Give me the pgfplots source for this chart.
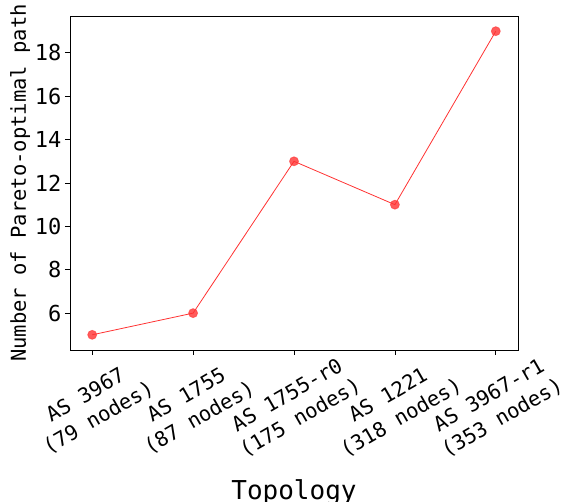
\documentclass[border=0pt]{standalone}
\usepackage{fontspec}
\setmainfont{DejaVu Sans Mono}
\usepackage{pgfplots}
\pgfplotsset{compat=1.18}

\definecolor{linered}{RGB}{255,50,50}

\begin{document}
\begin{tikzpicture}
\begin{axis}[
  scale only axis,
  width=448pt, height=334pt,
  xmin=-0.22, xmax=4.22,
  ymin=4.3, ymax=19.7,
  xtick={0,1,2,3,4},
  xticklabels={{AS 3967\\(79 nodes)},{AS 1755\\(87 nodes)},{AS 1755-r0\\(175 nodes)},{AS 1221\\(318 nodes)},{AS 3967-r1\\(353 nodes)}},
  ytick={6,8,10,12,14,16,18},
  tick pos=left,
  tick align=outside,
  major tick length=5pt,
  axis line style={black, line width=0.8pt},
  tick style={black, line width=0.8pt},
  /pgf/number format/assume math mode=true,
  yticklabel style={font=\fontsize{22}{26}\selectfont},
  x tick label style={font=\fontsize{20.5}{26}\selectfont, align=center, rotate=30, anchor=center},
  xticklabel shift=52pt,
  xlabel={Topology},
  ylabel={Number of Pareto-optimal path},
  xlabel style={font=\fontsize{26}{30}\selectfont, at={(0.5,0)}, yshift=-126pt, anchor=north},
  ylabel style={font=\fontsize{20.5}{24}\selectfont, yshift=-2pt},
]
\addplot[color=linered, line width=0.8pt, mark=*, mark size=4.5pt,
  mark options={fill=linered, draw=linered, fill opacity=0.8, draw opacity=0.6}]
  coordinates {(0,5)(1,6)(2,13)(3,11)(4,19)};
\end{axis}
\pgfresetboundingbox
\path[use as bounding box] (current axis.south west) ++(-70pt,-152pt) rectangle ++(562pt,502pt);
\end{tikzpicture}
\end{document}
